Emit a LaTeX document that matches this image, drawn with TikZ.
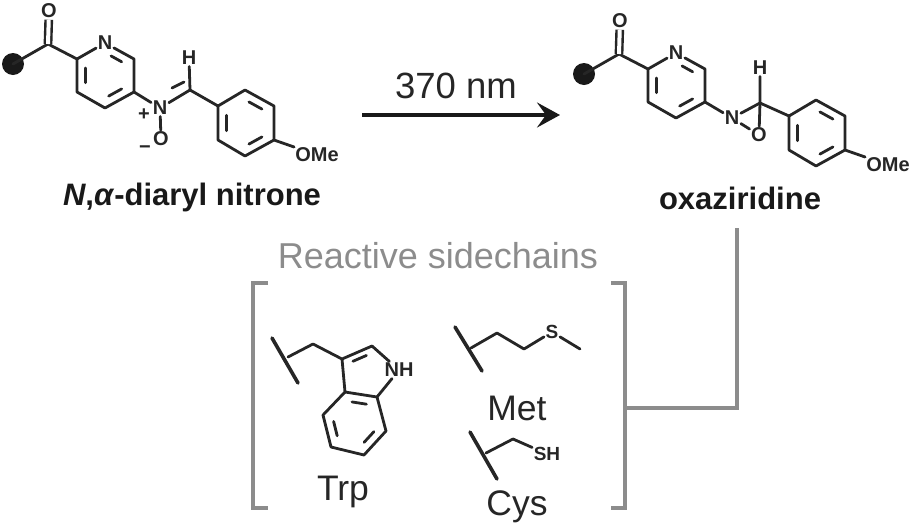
\documentclass[tikz,border=0pt]{standalone}
\usepackage{fontspec}
\setmainfont{Liberation Sans}
\usetikzlibrary{calc,arrows.meta}

\definecolor{bracketgray}{gray}{0.55}
\tikzset{
    bond/.style={line width=2.8pt, line cap=round, line join=round, black!85},
    carbonyl/.style={bond, double, double distance=4pt, line width=2.4pt, line cap=butt},
    hashline/.style={line width=3.6pt, line cap=round, black!85},
    atom/.style={inner sep=1.5pt, font=\fontsize{20}{20}\selectfont\bfseries, text=black!85},
    charge/.style={inner sep=0pt, font=\fontsize{20}{20}\selectfont\bfseries, text=black!85},
    title/.style={inner sep=0pt, font=\fontsize{31}{31}\selectfont\bfseries, text=black!90},
    aminoname/.style={inner sep=0pt, font=\fontsize{35.5}{36}\selectfont, text=black!85},
    frame/.style={line width=3.8pt, bracketgray}
}

% short inner line of a ring double bond
\newcommand{\innerbond}[4][.18]{\draw[bond] ($(#2)!#1!(#3)!.3!(#4)$) -- ($(#3)!.18!(#2)!.3!(#4)$);}

% bead, carbonyl and pyridine ring
\newcommand{\pyridyl}[2]{
    \begin{scope}[shift={(#2)}, name prefix=#1]
    \node[atom] (O) at (49,11) {O};
    \node[atom] (Npy) at (105,43) {N};
    \coordinate (CO) at (48,44);
    \coordinate (Ca) at (77,59);
    \coordinate (Cb) at (134,59);
    \coordinate (Cc) at (134,92);
    \coordinate (Cd) at (105,108);
    \coordinate (Ce) at (77,92);
    \coordinate (Cm) at (105,75);
    \fill[black!90] (13,64) circle (11) coordinate (bead);
    \draw[bond] (bead) -- (CO) -- (Ca) -- (Npy) -- (Cb) -- (Cc) -- (Cd) -- (Ce) -- (Ca);
    \draw[carbonyl] (O) -- (CO);
    \innerbond{Ca}{Ce}{Cm}
    \innerbond{Cc}{Cd}{Cm}
    \innerbond[.3]{Npy}{Cb}{Cm}
    \end{scope}
}

% methoxyphenyl ring
\newcommand{\anisyl}[2]{
    \begin{scope}[shift={(#2)}, name prefix=#1]
    \coordinate (Aa) at (218,106);
    \coordinate (Ab) at (245,90);
    \coordinate (Ac) at (274,106);
    \coordinate (Ad) at (274,140);
    \coordinate (Ae) at (245,156);
    \coordinate (Af) at (218,140);
    \coordinate (Am) at (246,123);
    \node[atom, inner sep=1pt] (OMe) at (317,155) {OMe};
    \draw[bond] (Aa) -- (Ab) -- (Ac) -- (Ad) -- (Ae) -- (Af) -- cycle;
    \draw[bond] (Ad) -- (OMe);
    \innerbond{Aa}{Af}{Am}
    \innerbond{Ab}{Ac}{Am}
    \innerbond{Ad}{Ae}{Am}
    \end{scope}
}

\begin{document}
\begin{tikzpicture}[x=1pt, y=-1pt]
    \useasboundingbox (0,0) rectangle (912,528);

    % nitrone
    \pyridyl{l-}{0,0}
    \anisyl{l-}{0,0}
    \node[atom] (lN) at (160,108) {N};
    \node[atom] (lO) at (161,139) {O};
    \node[atom] (lH) at (189,58) {H};
    \node[charge] (lplus) at (144,115) {+};
    \node[charge] (lminus) at (145,150) {\textminus};
    \coordinate (lC) at (190,90);
    \coordinate (lCa) at (172,88);
    \coordinate (lCb) at (184,82);
    \draw[bond] (l-Cc) -- (lN) -- (lC) -- (l-Aa);
    \draw[bond] (lN) -- (lO);
    \draw[bond] (lC) -- (lH);
    \draw[bond] (lCa) -- (lCb);
    \node[title] (nitrone) at (192,197) {\textit{N},\textit{α}-diaryl nitrone};

    % arrow
    \coordinate (start) at (362,115);
    \coordinate (end) at (560,115);
    \draw[line width=3.6pt, black!90, -{Stealth[length=23pt, width=25pt, inset=9pt]}] (start) -- (end);
    \node[aminoname, font=\fontsize{36.5}{37}\selectfont] (light) at (456,86) {370 nm};

    % oxaziridine
    \pyridyl{r-}{571,10}
    \anisyl{r-}{571,10}
    \node[atom] (rN) at (732,118) {N};
    \node[atom] (rO) at (759,135) {O};
    \node[atom] (rH) at (760,68) {H};
    \coordinate (rC) at (760,103);
    \draw[bond] (r-Cc) -- (rN) -- (rC) -- (r-Aa);
    \draw[bond] (rN) -- (rO) -- (rC) -- (rH);
    \node[title] (oxaz) at (740,198) {oxaziridine};

    % brackets and connector
    \node[aminoname, text=bracketgray, font=\fontsize{36}{37}\selectfont] (react) at (438,256) {Reactive sidechains};
    \coordinate (bla) at (268,283);
    \coordinate (blb) at (253,283);
    \coordinate (blc) at (253,508);
    \coordinate (bld) at (268,508);
    \coordinate (bra) at (611,283);
    \coordinate (brb) at (625,283);
    \coordinate (brc) at (625,508);
    \coordinate (brd) at (611,508);
    \coordinate (joint) at (625,408);
    \coordinate (knee) at (737,408);
    \coordinate (top) at (737,228);
    \draw[frame] (bla) -- (blb) -- (blc) -- (bld);
    \draw[frame] (bra) -- (brb) -- (brc) -- (brd);
    \draw[frame] (joint) -- (knee) -- (top);

    % Trp
    \coordinate (ta) at (272,338);
    \coordinate (tb) at (298,383);
    \coordinate (tc) at (288,357);
    \coordinate (td) at (313,344);
    \coordinate (te) at (342,359);
    \coordinate (tf) at (372,346);
    \node[atom] (tN) at (399,370) {NH};
    \coordinate (tg) at (377,397);
    \coordinate (th) at (345,392);
    \coordinate (ti) at (323,415);
    \coordinate (tj) at (331,447);
    \coordinate (tk) at (364,455);
    \coordinate (tl) at (386,431);
    \coordinate (tm) at (355,423);
    \coordinate (tn) at (366,372);
    \draw[hashline] (ta) -- (tb);
    \draw[bond] (tc) -- (td) -- (te) -- (tf) -- (tN) -- (tg) -- (th) -- (te);
    \draw[bond] (th) -- (ti) -- (tj) -- (tk) -- (tl) -- (tg);
    \innerbond{te}{tf}{tn}
    \innerbond{th}{tg}{tm}
    \innerbond{ti}{tj}{tm}
    \innerbond{tk}{tl}{tm}
    \node[aminoname] (trp) at (343,492) {Trp};

    % Met
    \coordinate (ma) at (455,327);
    \coordinate (mb) at (482,371);
    \coordinate (mc) at (471,348);
    \coordinate (md) at (497,333);
    \coordinate (me) at (524,349);
    \node[atom, font=\fontsize{19}{19}\selectfont\bfseries] (mS) at (552,332) {S};
    \coordinate (mf) at (580,349);
    \draw[hashline] (ma) -- (mb);
    \draw[bond] (mc) -- (md) -- (me) -- (mS) -- (mf);
    \node[aminoname] (met) at (517,408) {Met};

    % Cys
    \coordinate (ca) at (470,432);
    \coordinate (cb) at (497,479);
    \coordinate (cc) at (486,453);
    \coordinate (cd) at (513,439);
    \node[atom, font=\fontsize{19}{19}\selectfont\bfseries] (cS) at (547,454) {SH};
    \draw[hashline] (ca) -- (cb);
    \draw[bond] (cc) -- (cd) -- (cS);
    \node[aminoname] (cys) at (517,507) {Cys};
\end{tikzpicture}
\end{document}
